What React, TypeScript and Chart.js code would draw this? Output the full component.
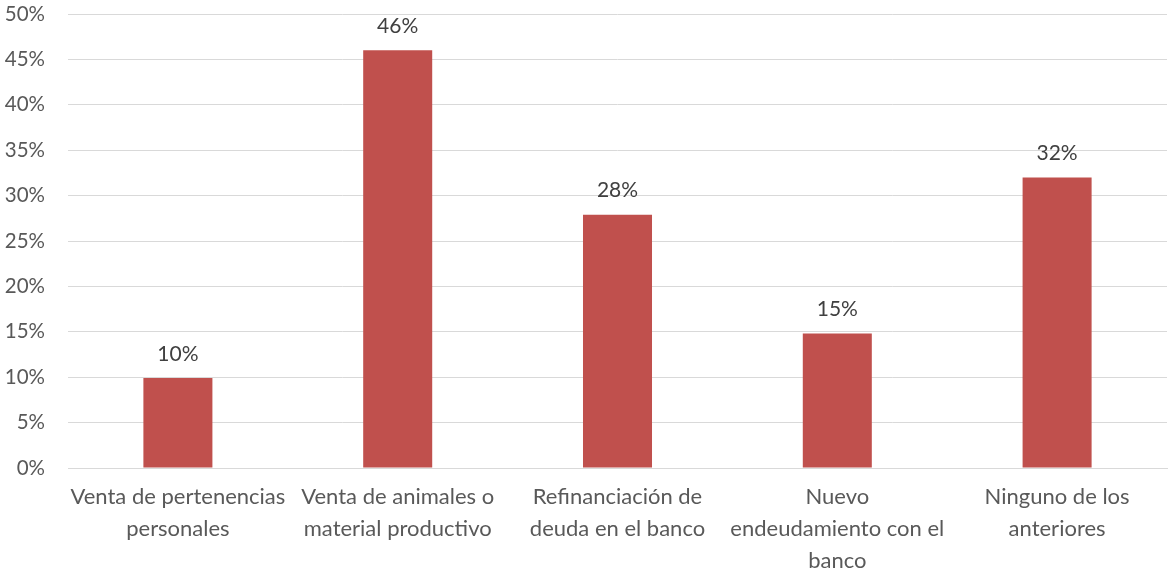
import React, { useEffect, useRef } from "react";
import { Chart, registerables } from "chart.js";

Chart.register(...registerables);

const categories: string[][] = [
  ["Venta de pertenencias", "personales"],
  ["Venta de animales o", "material productivo"],
  ["Refinanciación de", "deuda en el banco"],
  ["Nuevo", "endeudamiento con el", "banco"],
  ["Ninguno de los", "anteriores"],
];
const values: number[] = [9.9, 46.0, 27.9, 14.8, 32.0];
const valueLabels: string[] = ["10%", "46%", "28%", "15%", "32%"];
const yMin = 0;
const yMax = 50;
const yStep = 5;

const FONT = "Lato, 'Noto Sans', sans-serif";

const dataLabelPlugin = {
  id: "dataLabels",
  afterDatasetsDraw(chart: any) {
    const ctx = chart.ctx;
    const meta = chart.getDatasetMeta(0);
    ctx.save();
    ctx.font = `21px ${FONT}`;
    ctx.fillStyle = "#404040";
    ctx.textAlign = "center";
    ctx.textBaseline = "middle";
    meta.data.forEach((el: any, i: number) => {
      ctx.fillText(valueLabels[i], el.x, el.y - 24);
    });
    ctx.restore();
  },
};

export default function App() {
  const ref = useRef<HTMLCanvasElement | null>(null);
  useEffect(() => {
    if (!ref.current) return;
    const chart = new Chart(ref.current, {
      type: "bar",
      data: {
        labels: categories,
        datasets: [
          {
            data: values,
            backgroundColor: "#c0504d",
            borderWidth: 0,
            categoryPercentage: 1,
            barPercentage: 0.314,
          },
        ],
      },
      options: {
        animation: false,
        responsive: false,
        maintainAspectRatio: false,
        layout: { padding: { top: 0, right: 2, left: 0, bottom: 0 } },
        plugins: {
          legend: { display: false },
          tooltip: { enabled: false },
        },
        scales: {
          x: {
            grid: { display: false, drawTicks: false },
            border: { display: true, color: "#d9d9d9", width: 1 },
            ticks: {
              color: "#595959",
              font: { family: FONT, size: 22, lineHeight: 1.45 },
              padding: 13,
              maxRotation: 0,
              autoSkip: false,
            },
            afterFit(scale: any) {
              scale.height = 101;
            },
          },
          y: {
            min: yMin,
            max: yMax,
            grid: { color: "#d9d9d9", lineWidth: 1, drawTicks: false },
            border: { display: false },
            ticks: {
              stepSize: yStep,
              color: "#595959",
              font: { family: FONT, size: 20.5 },
              padding: 23,
              callback: (v: any) => `${v}%`,
            },
            afterFit(scale: any) {
              scale.width = 68;
              scale.paddingTop = 14;
            },
          },
        },
      },
      plugins: [dataLabelPlugin],
    });
    return () => chart.destroy();
  }, []);
  return (
    <div style={{ position: "fixed", left: 0, top: 0, width: 1169, height: 569, background: "#fff" }}>
      <canvas ref={ref} width={1169} height={569} />
    </div>
  );
}
